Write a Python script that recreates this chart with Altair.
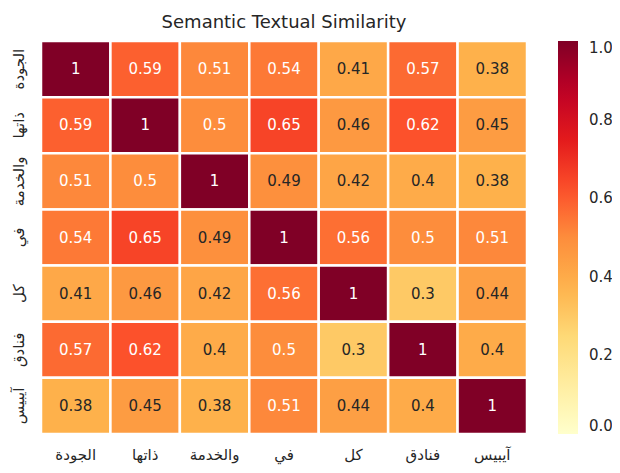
import altair as alt
import pandas as pd

words = ["الجودة", "ذاتها", "والخدمة", "في", "كل", "فنادق", "آيبيس"]
matrix = [
    [1.00, 0.59, 0.51, 0.54, 0.41, 0.57, 0.38],
    [0.59, 1.00, 0.50, 0.65, 0.46, 0.62, 0.45],
    [0.51, 0.50, 1.00, 0.49, 0.42, 0.40, 0.38],
    [0.54, 0.65, 0.49, 1.00, 0.56, 0.50, 0.51],
    [0.41, 0.46, 0.42, 0.56, 1.00, 0.30, 0.44],
    [0.57, 0.62, 0.40, 0.50, 0.30, 1.00, 0.40],
    [0.38, 0.45, 0.38, 0.51, 0.44, 0.40, 1.00],
]
ylorrd = ["#ffffcc", "#ffeda0", "#fed976", "#feb24c", "#fd8d3c",
          "#fc4e2a", "#e31a1c", "#bd0026", "#800026"]
stops = [i / 8 for i in range(9)]

rows = []
for i, rw in enumerate(words):
    for j, cw in enumerate(words):
        v = matrix[i][j]
        rows.append({"row": rw, "col": cw, "value": v, "label": f"{v:g}"})
df = pd.DataFrame(rows)

font = "DejaVu Sans"
x = alt.X("col:N", sort=words, title=None,
          axis=alt.Axis(labelAngle=0, ticks=False, domain=False, labelFontSize=15,
                        labelPadding=13, labelColor="#262626", labelFont=font))
y = alt.Y("row:N", sort=words, title=None,
          axis=alt.Axis(labelAngle=270, ticks=False, domain=False, labelFontSize=15,
                        labelPadding=15, labelColor="#262626", labelFont=font,
                        labelAlign="center", labelBaseline="bottom"))

base = alt.Chart(df).encode(x=x, y=y)

rect = base.mark_rect(stroke="white", strokeWidth=2.5).encode(
    color=alt.Color("value:Q",
                    scale=alt.Scale(domain=stops, range=ylorrd, interpolate="rgb"),
                    legend=alt.Legend(title=None, orient="right", offset=31,
                                      gradientLength=393, gradientThickness=20,
                                      values=[0, 0.2, 0.4, 0.6, 0.8, 1.0], format=".1f",
                                      labelFontSize=15, labelColor="#262626",
                                      labelFont=font, labelOffset=11, padding=0,
                                      gradientStrokeWidth=0))
)

text = base.mark_text(fontSize=15, font=font).encode(
    text="label:N",
    color=alt.condition(alt.datum.value >= 0.5, alt.value("white"), alt.value("#262626")),
)

chart = (rect + text).properties(
    width=486, height=393,
    title=alt.TitleParams("Semantic Textual Similarity", fontSize=18, font=font,
                          fontWeight="normal", color="#262626", offset=8),
    autosize=alt.AutoSizeParams(type="none"),
    padding={"left": 33, "top": 33, "right": 85, "bottom": 31},
).configure_view(stroke=None)

chart.save("out.html", embed_options={"renderer": "svg", "actions": False})
